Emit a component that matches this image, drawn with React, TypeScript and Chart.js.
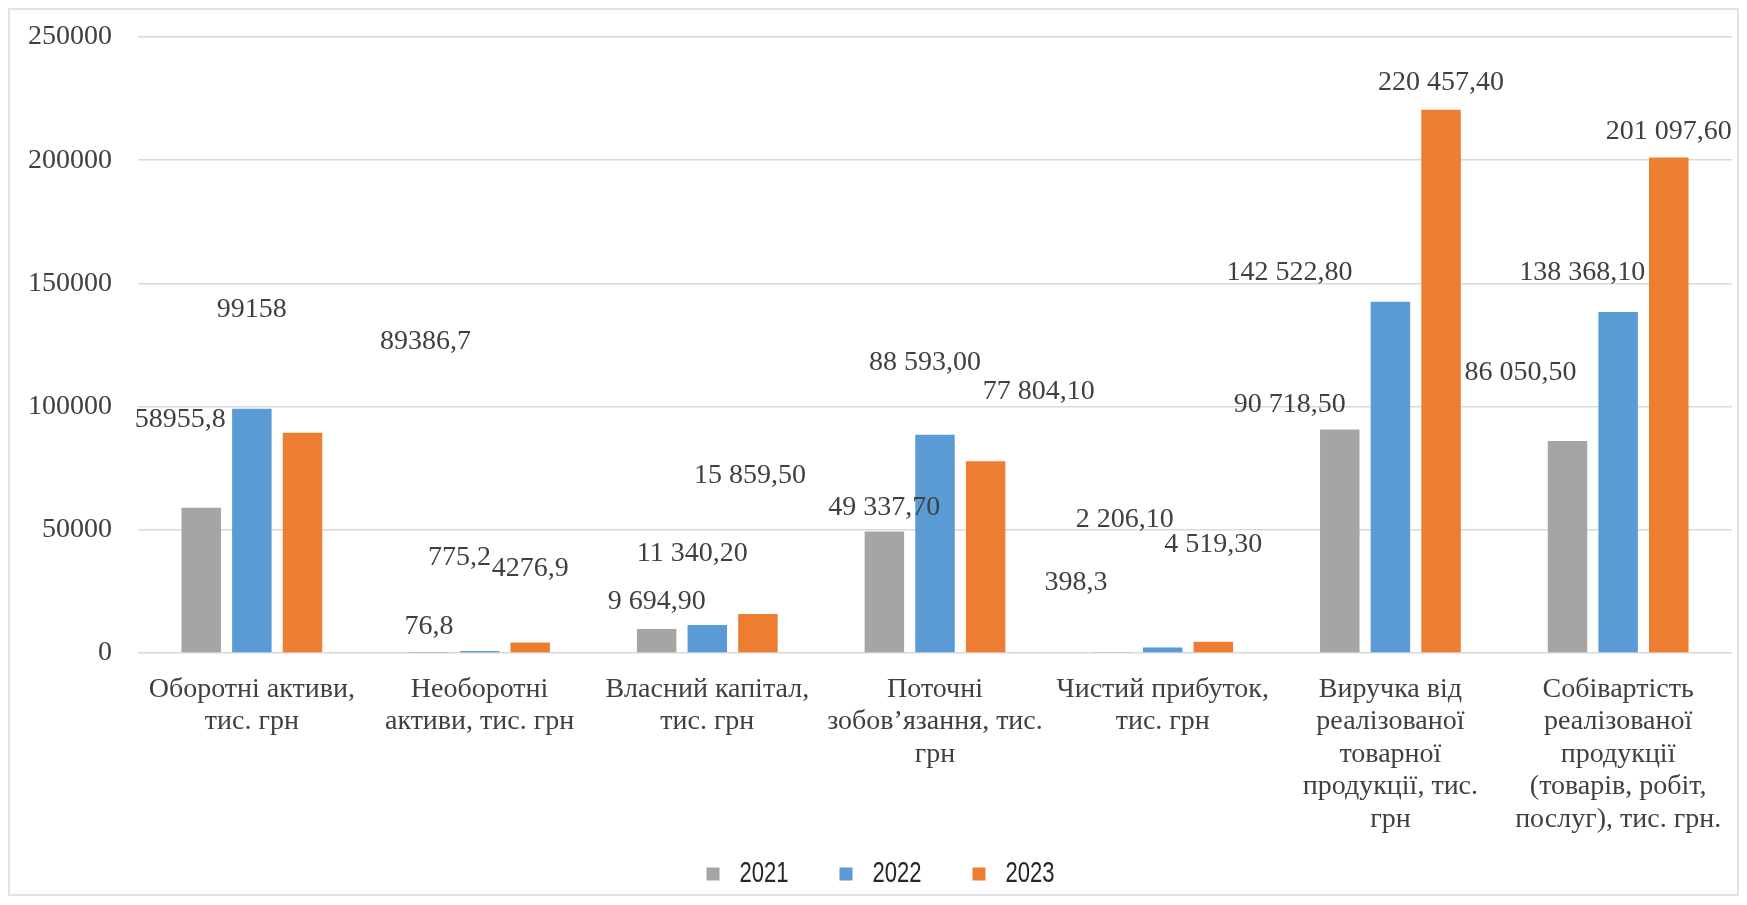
import React, { useEffect, useRef } from "react";
import { Chart, registerables } from "chart.js";

Chart.register(...registerables);

const SERIF = "'Liberation Serif', 'Times New Roman', serif";
const SANS = "'Liberation Sans', Arial, sans-serif";
const TEXT = "#404040";

const categories: string[][] = [
  ["Оборотні активи,", "тис. грн"],
  ["Необоротні", "активи, тис. грн"],
  ["Власний капітал,", "тис. грн"],
  ["Поточні", "зобов’язання, тис.", "грн"],
  ["Чистий прибуток,", "тис. грн"],
  ["Виручка від", "реалізованої", "товарної", "продукції, тис.", "грн"],
  ["Собівартість", "реалізованої", "продукції", "(товарів, робіт,", "послуг), тис. грн."],
];

const years = ["2021", "2022", "2023"];

const values2021 = [58955.8, 76.8, 9694.9, 49337.7, 398.3, 90718.5, 86050.5];
const values2022 = [99158, 775.2, 11340.2, 88593.0, 2206.1, 142522.8, 138368.1];
const values2023 = [89386.7, 4276.9, 15859.5, 77804.1, 4519.3, 220457.4, 201097.6];

const labels2021 = ["58955,8", "76,8", "9 694,90", "49 337,70", "398,3", "90 718,50", "86 050,50"];
const labels2022 = ["99158", "775,2", "11 340,20", "88 593,00", "2 206,10", "142 522,80", "138 368,10"];
const labels2023 = ["89386,7", "4276,9", "15 859,50", "77 804,10", "4 519,30", "220 457,40", "201 097,60"];

const yMin = 0;
const yMax = 250000;
const yStep = 50000;

const colors = ["#A5A5A5", "#5B9BD5", "#ED7D31"];

// label placement offsets (px) relative to the top-centre of each bar
const offsets2021 = [[-21, -88], [0, -26], [0, -27], [0, -24], [-36, -69], [-50, -25], [-47, -68]];
const offsets2022 = [[0, -99], [-20, -93], [-15, -71], [-10, -72], [-38, -128], [-101, -29], [-36, -39]];
const offsets2023 = [[123, -91], [0, -74], [-8, -138], [53, -70], [0, -97], [0, -27], [0, -26]];

const valueLabels = [labels2021, labels2022, labels2023];
const labelOffsets = [offsets2021, offsets2022, offsets2023];

const dataLabelPlugin = {
  id: "barValueLabels",
  afterDatasetsDraw(chart: any) {
    const ctx = chart.ctx;
    ctx.save();
    ctx.font = `28px ${SERIF}`;
    ctx.fillStyle = TEXT;
    ctx.textAlign = "center";
    ctx.textBaseline = "middle";
    chart.data.datasets.forEach((_ds: any, i: number) => {
      const meta = chart.getDatasetMeta(i);
      meta.data.forEach((bar: any, j: number) => {
        const [dx, dy] = labelOffsets[i][j];
        ctx.fillText(valueLabels[i][j], bar.x + dx, bar.y + dy);
      });
    });
    ctx.restore();
  },
};

const legendPlugin = {
  id: "compressedLegend",
  afterDraw(chart: any) {
    const ctx = chart.ctx;
    const start = chart.width / 2 - 167;
    const cy = chart.chartArea.bottom + 221;
    chart.data.datasets.forEach((ds: any, i: number) => {
      const x = start + i * 133;
      ctx.save();
      ctx.fillStyle = ds.backgroundColor;
      ctx.fillRect(x, cy - 6.5, 13, 13);
      ctx.translate(x + 33, cy);
      ctx.scale(0.76, 1);
      ctx.font = `29px ${SANS}`;
      ctx.fillStyle = "#262626";
      ctx.textBaseline = "middle";
      ctx.textAlign = "left";
      ctx.fillText(ds.label, 0, 0);
      ctx.restore();
    });
  },
};

export default function App() {
  const canvasRef = useRef<HTMLCanvasElement | null>(null);

  useEffect(() => {
    if (!canvasRef.current) return;
    const seriesValues = [values2021, values2022, values2023];
    const chart = new Chart(canvasRef.current, {
      type: "bar",
      data: {
        labels: categories,
        datasets: years.map((y, i) => ({
          label: y,
          data: seriesValues[i],
          backgroundColor: colors[i],
          borderWidth: 0,
          categoryPercentage: 0.667,
          barPercentage: 0.78,
        })),
      },
      options: {
        animation: false,
        responsive: true,
        maintainAspectRatio: false,
        layout: { padding: { top: 27, right: 5, bottom: 0, left: 0 } },
        plugins: {
          legend: { display: false },
          tooltip: { enabled: false },
        },
        scales: {
          x: {
            grid: { display: false, drawTicks: false },
            border: { display: false },
            ticks: {
              autoSkip: false,
              maxRotation: 0,
              minRotation: 0,
              padding: 20,
              color: TEXT,
              font: { family: SERIF, size: 28, lineHeight: 1.16 },
            },
            afterFit: (scale: any) => {
              scale.height = 241;
              scale.paddingLeft = 0;
              scale.paddingRight = 0;
            },
          },
          y: {
            min: yMin,
            max: yMax,
            grid: { color: "#d9d9d9", lineWidth: 1.5, drawTicks: false },
            border: { display: false },
            ticks: {
              stepSize: yStep,
              padding: 26,
              color: TEXT,
              font: { family: SERIF, size: 28 },
              callback: (v: any) => String(v),
            },
            afterFit: (scale: any) => {
              scale.width = 128;
              scale.paddingTop = 0;
              scale.paddingBottom = 0;
            },
          },
        },
      },
      plugins: [dataLabelPlugin, legendPlugin],
    });
    return () => chart.destroy();
  }, []);

  return (
    <div
      style={{
        position: "relative",
        width: 1731,
        height: 888,
        boxSizing: "border-box",
        border: "2px solid #e3e3e3",
        background: "#ffffff",
      }}
    >
      <canvas ref={canvasRef} />
    </div>
  );
}
